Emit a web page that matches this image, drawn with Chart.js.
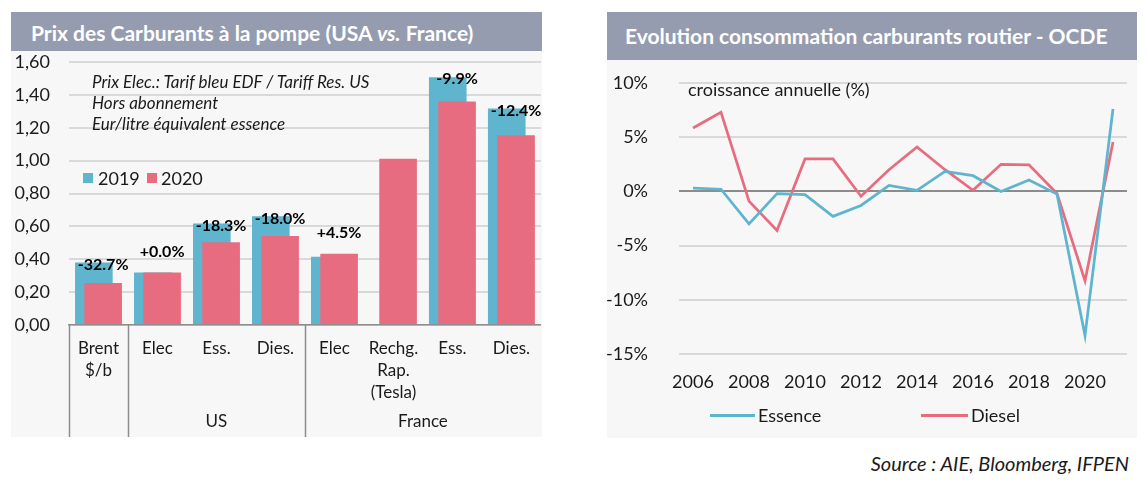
<!DOCTYPE html>
<html lang="fr">
<head>
<meta charset="utf-8">
<title>Prix des carburants / consommation OCDE</title>
<script src="https://cdn.jsdelivr.net/npm/chart.js@4.4.1/dist/chart.umd.min.js"></script>
<style>
  body { margin: 0; width: 1146px; height: 485px; background: #fff; position: relative; overflow: hidden;
         font-family: Lato, 'Open Sans', sans-serif; color: #1a1a1a; }
  .panel { position: absolute; background: #f7f7f7; }
  .panel-title { position: absolute; left: 0; top: 0; right: 0; background: #959cb0; color: #fff;
                 font-weight: bold; font-size: 21px; box-sizing: border-box; white-space: nowrap; }
  .panel canvas { position: absolute; left: 0; }
  .note { position: absolute; font-style: italic; font-size: 17px; line-height: 21px; white-space: nowrap; }
  .legend { position: absolute; font-size: 18px; white-space: nowrap; }
  .legend span { position: absolute; top: 0; line-height: 22px; }
  .legend i { position: absolute; display: block; }
  #source { position: absolute; right: 17px; top: 451px; font-style: italic; font-size: 20px; line-height: 24px; }
</style>
</head>
<body>

<div class="panel" id="pricePanel" style="left:11px; top:12px; width:531px; height:425px;">
  <div class="panel-title" style="height:39px; line-height:41px; padding-left:20px;">Prix des Carburants à la pompe (USA <i>vs.</i> France)</div>
  <canvas id="priceChart" width="531" height="386" style="top:39px;"></canvas>
  <div class="note" style="left:81px; top:59px;">Prix Elec.: Tarif bleu EDF / Tariff Res. US<br>Hors abonnement<br>Eur/litre équivalent essence</div>
  <div class="legend" id="priceLegend" style="left:72px; top:155px;"></div>
</div>

<div class="panel" id="consoPanel" style="left:607px; top:12px; width:530px; height:426px;">
  <div class="panel-title" style="height:48px; line-height:48px; padding-left:18px;">Evolution consommation carburants routier - OCDE</div>
  <canvas id="consoChart" width="530" height="378" style="top:48px;"></canvas>
  <div class="note" style="left:81px; top:65px; font-style:normal; font-size:18px; line-height:24px;">croissance annuelle (%)</div>
  <div class="legend" id="consoLegend" style="left:0; top:392px;"></div>
</div>

<div id="source">Source : AIE, Bloomberg, IFPEN</div>

<script>
// ---- Prix à la pompe (EUR / litre équivalent essence) ----
const priceCategories = [['Brent', '$/b'], 'Elec', 'Ess.', 'Dies.', 'Elec', ['Rechg.', 'Rap.', '(Tesla)'], 'Ess.', 'Dies.'];
const prices2019 = [0.38, 0.32, 0.617, 0.661, 0.415, null, 1.507, 1.317];
const prices2020 = [0.256, 0.32, 0.503, 0.541, 0.434, 1.012, 1.36, 1.154];
const changeLabels = ['-32.7%', '+0.0%', '-18.3%', '-18.0%', '+4.5%', '', '-9.9%', '-12.4%'];
const groupNames = ['', 'US', 'France'];
const groupSizes = [1, 3, 4];

// ---- Consommation OCDE, croissance annuelle (%) ----
const years = ['2006', '2007', '2008', '2009', '2010', '2011', '2012', '2013',
               '2014', '2015', '2016', '2017', '2018', '2019', '2020', '2021'];
const essence = [0.3, 0.2, -3.0, -0.2, -0.3, -2.3, -1.3, 0.55, 0.1, 1.85, 1.45, 0.0, 1.05, -0.25, -13.3, 7.6];
const diesel = [5.85, 7.3, -0.9, -3.6, 3.0, 3.0, -0.45, 2.0, 4.1, 2.0, 0.1, 2.5, 2.45, -0.2, -8.25, 4.55];

const BLUE = '#5eb5cd';
const PINK = '#e86c7f';
const TEXT = '#1a1a1a';
const GRID = '#d9d9d9';
const AXIS = '#8c8c8c';
const FONT = 'Lato, "Open Sans", sans-serif';

Chart.defaults.font.family = FONT;
Chart.defaults.color = TEXT;

// Excel draws the 2019 bars behind the 2020 ones, Chart.js does the opposite
const barsInOrder = {
  id: 'barsInOrder',
  beforeDatasetsDraw(chart) {
    chart.getSortedVisibleDatasetMetas().forEach(meta => meta.controller.draw());
    return false;
  }
};

// second level of the category axis (US / France) + separators
const groupAxis = {
  id: 'groupAxis',
  afterDraw(chart) {
    const { ctx, chartArea, scales: { x } } = chart;
    const half = (x.getPixelForValue(1) - x.getPixelForValue(0)) / 2;
    ctx.save();
    ctx.strokeStyle = AXIS;
    ctx.lineWidth = 1.5;
    ctx.fillStyle = TEXT;
    ctx.font = '17px ' + FONT;
    ctx.textAlign = 'center';
    ctx.textBaseline = 'middle';
    let start = 0;
    groupSizes.forEach((size, g) => {
      const left = x.getPixelForValue(start) - half;
      const right = x.getPixelForValue(start + size - 1) + half;
      ctx.beginPath();
      ctx.moveTo(Math.round(left) + 0.5, chartArea.bottom);
      ctx.lineTo(Math.round(left) + 0.5, chart.height);
      ctx.stroke();
      if (groupNames[g]) ctx.fillText(groupNames[g], (left + right) / 2, chartArea.bottom + 97);
      start += size;
    });
    ctx.restore();
  }
};

// % change labels above each pair of bars
const changeValues = {
  id: 'changeValues',
  afterDraw(chart) {
    const { ctx } = chart;
    const bars19 = chart.getDatasetMeta(0).data;
    const bars20 = chart.getDatasetMeta(1).data;
    ctx.save();
    ctx.fillStyle = '#000';
    ctx.font = 'bold 16px ' + FONT;
    ctx.textAlign = 'center';
    ctx.textBaseline = 'middle';
    changeLabels.forEach((text, i) => {
      if (!text) return;
      const top19 = bars19[i].y;
      const top20 = bars20[i].y;
      const y = prices2020[i] >= prices2019[i] ? Math.min(top19, top20) - 21 : top19 + 2;
      ctx.fillText(text, bars20[i].x, y);
    });
    ctx.restore();
  }
};

// the tick padding would otherwise also be added above/below the value axis
function fixValueAxis(width) {
  return scale => {
    scale.width = width;
    scale.paddingTop = 0;
    scale.paddingBottom = 0;
  };
}

function buildLegend(el, items) {
  el.innerHTML = items.map(it =>
    `<i style="left:${it.mark[0]}px; top:${it.mark[1]}px; width:${it.mark[2]}px; height:${it.mark[3]}px; background:${it.color}"></i>` +
    `<span style="left:${it.textLeft}px">${it.label}</span>`
  ).join('');
}

const priceChart = new Chart(document.getElementById('priceChart'), {
  type: 'bar',
  data: {
    labels: priceCategories,
    datasets: [
      { label: '2019', data: prices2019, backgroundColor: BLUE },
      { label: '2020', data: prices2020, backgroundColor: PINK }
    ]
  },
  options: {
    responsive: false,
    animation: false,
    devicePixelRatio: 1,
    categoryPercentage: 0.315,
    barPercentage: 4.05,
    layout: { padding: { top: 11, left: 0, right: 0, bottom: 0 } },
    plugins: { legend: { display: false }, tooltip: { enabled: false } },
    scales: {
      x: {
        grid: { display: false, drawTicks: false },
        border: { color: AXIS, width: 1.5 },
        ticks: { font: { size: 17, lineHeight: 1.3 }, padding: 12, maxRotation: 0, autoSkip: false },
        afterFit(scale) { scale.height = 112; }
      },
      y: {
        min: 0,
        max: 1.6,
        grid: { color: GRID, lineWidth: 2, drawTicks: false },
        border: { display: false },
        ticks: {
          stepSize: 0.2,
          padding: 19,
          font: { size: 18 },
          callback: v => v.toFixed(2).replace('.', ',')
        },
        afterFit: fixValueAxis(58)
      }
    }
  },
  plugins: [barsInOrder, groupAxis, changeValues]
});

buildLegend(document.getElementById('priceLegend'), [
  { label: '2019', color: BLUE, mark: [0, 6, 10, 10], textLeft: 15 },
  { label: '2020', color: PINK, mark: [64, 6, 10, 10], textLeft: 78 }
]);

const consoChart = new Chart(document.getElementById('consoChart'), {
  type: 'line',
  data: {
    labels: years,
    datasets: [
      { label: 'Essence', data: essence, borderColor: BLUE, backgroundColor: BLUE },
      { label: 'Diesel', data: diesel, borderColor: PINK, backgroundColor: PINK }
    ]
  },
  options: {
    responsive: false,
    animation: false,
    devicePixelRatio: 1,
    elements: { point: { radius: 0 }, line: { borderWidth: 2.75, tension: 0 } },
    layout: { padding: { top: 23, left: 0, right: 10, bottom: 0 } },
    plugins: { legend: { display: false }, tooltip: { enabled: false } },
    scales: {
      x: {
        offset: true,
        grid: { display: false, drawTicks: false },
        border: { display: false },
        ticks: {
          font: { size: 18 },
          padding: 17,
          maxRotation: 0,
          autoSkip: false,
          callback: (v, i) => (i % 2 === 0 ? years[i] : '')
        },
        afterFit(scale) { scale.height = 84; }
      },
      y: {
        min: -15,
        max: 10,
        grid: {
          color: c => (c.tick.value === 0 ? AXIS : GRID),
          lineWidth: 2,
          drawTicks: false
        },
        border: { display: false },
        ticks: { stepSize: 5, padding: 31, font: { size: 18 }, callback: v => v + '%' },
        afterFit: fixValueAxis(72)
      }
    }
  }
});

buildLegend(document.getElementById('consoLegend'), [
  { label: 'Essence', color: BLUE, mark: [103, 10, 45, 3], textLeft: 151 },
  { label: 'Diesel', color: PINK, mark: [314, 10, 47, 3], textLeft: 364 }
]);
</script>
</body>
</html>
